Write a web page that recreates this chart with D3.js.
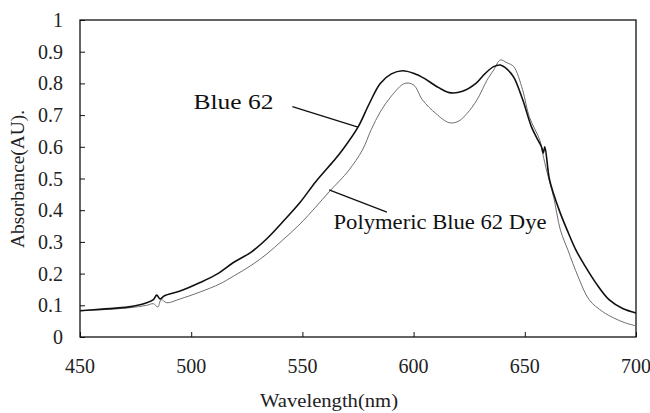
<!DOCTYPE html>
<html>
<head>
    <title>Absorbance Spectra</title>
    <script src="https://cdnjs.cloudflare.com/ajax/libs/d3/7.8.5/d3.min.js"></script>
    <style>
        body {
            margin: 0;
            background-color: white;
        }
        #chart {
            width: 650px;
            height: 413px;
        }
    </style>
</head>
<body>
    <div id="chart"></div>

    <script>
        // Blue 62 (dark line)
        const blue62Wavelength = [450, 460, 472, 480, 483, 484.5, 486, 488, 495, 504, 512, 519, 527, 534, 541, 549, 556, 564, 568, 575, 580, 585, 590, 595, 600, 605, 610, 616, 622, 628, 632, 636, 639, 642, 645, 649, 653, 656, 657.5, 658.3, 659, 661, 663, 666, 669, 673, 677, 682, 688, 694, 700];
        const blue62Absorbance = [0.083, 0.088, 0.095, 0.108, 0.118, 0.132, 0.12, 0.13, 0.145, 0.172, 0.2, 0.235, 0.268, 0.31, 0.362, 0.425, 0.49, 0.555, 0.59, 0.662, 0.735, 0.80, 0.83, 0.84, 0.832, 0.815, 0.792, 0.771, 0.775, 0.80, 0.83, 0.853, 0.858, 0.845, 0.82, 0.75, 0.663, 0.62, 0.60, 0.58, 0.60, 0.50, 0.45, 0.39, 0.338, 0.274, 0.225, 0.17, 0.117, 0.09, 0.076];

        // Polymeric Blue 62 Dye (thin grey line)
        const polyWavelength = [450, 460, 472, 480, 483, 485, 486.5, 489, 495, 504, 513, 519, 527, 534, 541, 549, 556, 562, 567, 571, 577, 581, 585, 590, 596, 600, 604, 610, 616, 620, 624, 628.5, 633, 636, 639, 642, 645, 649, 652, 656.8, 658, 660, 663, 666, 669.4, 674, 679, 685, 690, 695, 700];
        const polyAbsorbance = [0.083, 0.086, 0.092, 0.10, 0.105, 0.095, 0.118, 0.108, 0.12, 0.142, 0.168, 0.192, 0.226, 0.262, 0.305, 0.357, 0.41, 0.458, 0.495, 0.527, 0.59, 0.655, 0.71, 0.76, 0.80, 0.795, 0.748, 0.705, 0.676, 0.68, 0.705, 0.748, 0.81, 0.842, 0.874, 0.865, 0.853, 0.78, 0.695, 0.62, 0.58, 0.52, 0.44, 0.338, 0.274, 0.19, 0.117, 0.08, 0.06, 0.045, 0.035];

        const xTicks = [450, 500, 550, 600, 650, 700];
        const yTicks = [0, 0.1, 0.2, 0.3, 0.4, 0.5, 0.6, 0.7, 0.8, 0.9, 1];

        const serif = '"Liberation Serif"';
        const ink = '#222';

        const width = 650;
        const height = 413;
        const margin = {top: 20, right: 14, bottom: 76, left: 80};
        const plotW = width - margin.left - margin.right;
        const plotH = height - margin.top - margin.bottom;

        const svg = d3.select('#chart')
            .append('svg')
                .attr('width', width)
                .attr('height', height);

        const g = svg.append('g')
            .attr('transform', `translate(${margin.left},${margin.top})`);

        const x = d3.scaleLinear().domain([450, 700]).range([0, plotW]);
        const y = d3.scaleLinear().domain([0, 1]).range([plotH, 0]);

        // Frame
        g.append('rect')
            .attr('width', plotW)
            .attr('height', plotH)
            .attr('fill', 'none')
            .attr('stroke', '#111')
            .attr('stroke-width', 1.3);

        // Y axis, ticks pointing inward
        const yAxis = g.append('g')
            .call(d3.axisRight(y).tickValues(yTicks).tickSize(5).tickFormat(''));
        yAxis.select('.domain').remove();
        yAxis.selectAll('line').attr('stroke', '#111');

        g.selectAll('.ylab')
            .data(yTicks)
            .enter().append('text')
                .attr('class', 'ylab')
                .attr('x', -17)
                .attr('y', d => y(d))
                .attr('dy', '0.35em')
                .attr('text-anchor', 'end')
                .style('font-family', serif)
                .style('font-size', '20px')
                .style('fill', ink)
                .text(d => d3.format('')(d));

        // X axis, ticks pointing inward
        const xAxis = g.append('g')
            .attr('transform', `translate(0,${plotH})`)
            .call(d3.axisTop(x).tickValues(xTicks).tickSize(5).tickFormat(''));
        xAxis.select('.domain').remove();
        xAxis.selectAll('line').attr('stroke', '#111');

        g.selectAll('.xlab')
            .data(xTicks)
            .enter().append('text')
                .attr('class', 'xlab')
                .attr('x', d => x(d))
                .attr('y', plotH + 36)
                .attr('text-anchor', 'middle')
                .style('font-family', serif)
                .style('font-size', '20px')
                .style('fill', ink)
                .text(d => d);

        // Axis titles
        svg.append('text')
            .attr('x', 329)
            .attr('y', 407)
            .attr('text-anchor', 'middle')
            .attr('textLength', 138)
            .attr('lengthAdjust', 'spacingAndGlyphs')
            .style('font-family', serif)
            .style('font-size', '19px')
            .style('fill', ink)
            .text('Wavelength(nm)');

        svg.append('text')
            .attr('transform', 'rotate(-90)')
            .attr('x', -179)
            .attr('y', 24)
            .attr('text-anchor', 'middle')
            .attr('textLength', 138)
            .attr('lengthAdjust', 'spacingAndGlyphs')
            .style('font-family', serif)
            .style('font-size', '19px')
            .style('fill', ink)
            .text('Absorbance(AU).');

        // Lines
        const line = d3.line()
            .x(d => x(d[0]))
            .y(d => y(d[1]))
            .curve(d3.curveCatmullRom.alpha(0.5));

        g.append('path')
            .datum(d3.zip(polyWavelength, polyAbsorbance))
            .attr('fill', 'none')
            .attr('stroke', '#6e6e6e')
            .attr('stroke-width', 1)
            .attr('d', line);

        g.append('path')
            .datum(d3.zip(blue62Wavelength, blue62Absorbance))
            .attr('fill', 'none')
            .attr('stroke', '#111')
            .attr('stroke-width', 1.6)
            .attr('d', line);

        // Annotations
        g.append('line')
            .attr('x1', x(545.5)).attr('y1', y(0.727))
            .attr('x2', x(575)).attr('y2', y(0.662))
            .attr('stroke', '#111').attr('stroke-width', 1.3);
        g.append('text')
            .attr('x', x(501))
            .attr('y', y(0.718))
            .attr('textLength', 80)
            .attr('lengthAdjust', 'spacingAndGlyphs')
            .style('font-family', serif)
            .style('font-size', '22px')
            .style('fill', '#111')
            .text('Blue 62');

        g.append('line')
            .attr('x1', x(562)).attr('y1', y(0.464))
            .attr('x2', x(588)).attr('y2', y(0.394))
            .attr('stroke', '#111').attr('stroke-width', 1.3);
        g.append('text')
            .attr('x', x(564))
            .attr('y', y(0.341))
            .attr('textLength', 213)
            .attr('lengthAdjust', 'spacingAndGlyphs')
            .style('font-family', serif)
            .style('font-size', '22px')
            .style('fill', '#111')
            .text('Polymeric Blue 62 Dye');
    </script>
</body>
</html>
